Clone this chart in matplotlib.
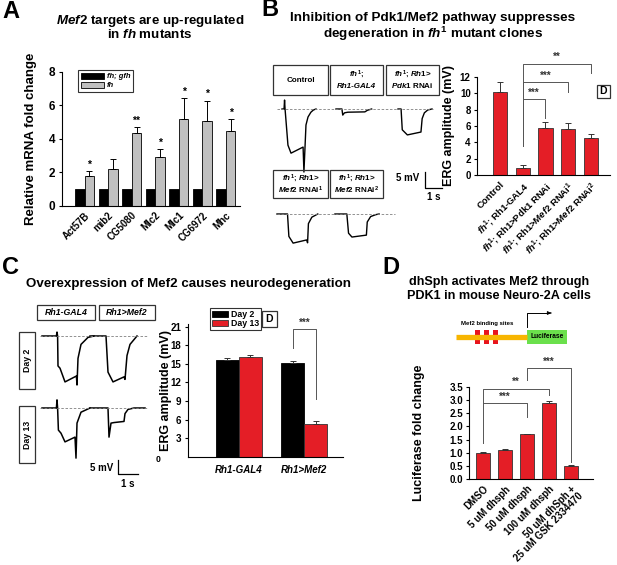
import numpy as np
import matplotlib
matplotlib.use("Agg")
import matplotlib.pyplot as plt
from matplotlib.patches import Rectangle

plt.rcParams['font.family'] = ['Liberation Sans', 'DejaVu Sans']
plt.rcParams['font.weight'] = 'bold'
plt.rcParams['axes.labelweight'] = 'bold'
plt.rcParams['mathtext.fontset'] = 'custom'
plt.rcParams['mathtext.rm'] = 'Liberation Sans:bold'
plt.rcParams['mathtext.it'] = 'Liberation Sans:italic:bold'
plt.rcParams['mathtext.bf'] = 'Liberation Sans:bold'
plt.rcParams['axes.linewidth'] = 0.8

W, H = 617, 565
RED = '#e41e26'

# ---------------- data ----------------
# A
genes = ["Act57B", "mib2", "CG5080", "Mlc2", "Mlc1", "CG6972", "Mhc"]
ctrl_a = [1, 1, 1, 1, 1, 1, 1]
fh_a = [1.78, 2.16, 4.31, 2.91, 5.2, 5.05, 4.45]
fh_err_a = [0.3, 0.64, 0.4, 0.44, 1.2, 1.22, 0.7]
stars_a = ["*", "", "**", "*", "*", "*", "*"]

# B
b_labels = ["Control", r"$\mathit{fh}^{1}$; Rh1-GAL4", r"$\mathit{fh}^{1}$; Rh1>Pdk1 RNAi",
            r"$\mathit{fh}^{1}$; Rh1>$\mathit{Mef2}$ RNAi$^{1}$",
            r"$\mathit{fh}^{1}$; Rh1>$\mathit{Mef2}$ RNAi$^{2}$"]
b_vals = [10.2, 0.85, 5.7, 5.6, 4.5]
b_err = [1.2, 0.35, 0.8, 0.8, 0.5]

# C
c_groups = ["Rh1-GAL4", "Rh1>Mef2"]
c_day2 = [15.6, 15.1]
c_day2_err = [0.35, 0.4]
c_day13 = [16.1, 5.3]
c_day13_err = [0.25, 0.45]

# D
d_labels = ["DMSO", "5 uM dhsph", "50 uM dhsph", "100 uM dhsph",
            "50 uM dhSph +\n25 uM GSK 2334470"]
d_vals = [1.0, 1.1, 1.7, 2.87, 0.52]
d_err = [0.02, 0.03, 0.03, 0.1, 0.02]

# ERG traces (time s, mV)
tr_control = ([0, 0.12, 0.15, 0.18, 0.35, 0.53, 1.24, 1.29, 1.41, 1.53, 1.7, 1.85, 2.0],
              [0, 0, 2.8, 0, -11.3, -13.8, -11.9, -19.7, -5, -2.5, -1, -0.3, 0])
tr_fh_gal4 = ([0, 0.35, 0.4, 0.5, 0.7, 1.7, 1.85, 2.1],
              [0, 0, -1.9, -1.2, -1.0, -0.9, -0.4, 0])
tr_pdk1 = ([0, 0.18, 0.25, 0.55, 1.35, 1.42, 1.55, 1.75, 2.0],
           [0, 0, -6.5, -8.1, -7.2, -3, -1.2, -0.3, 0])
tr_mef2_1 = ([0, 0.62, 0.7, 0.95, 1.75, 1.8, 1.85, 2.05, 2.4],
             [0, 0, -7, -9.1, -8.1, -9, -3, -1, 0])
tr_mef2_2 = ([0, 0.7, 0.8, 1.0, 1.85, 1.9, 2.1, 2.4, 2.6],
             [0, 0, -6, -7.2, -6.6, -2.5, -0.8, -0.2, 0])

tr_gal4_d2 = ([0, 0.72, 0.75, 0.78, 0.8, 0.9, 1.15, 1.72, 1.75, 1.8, 1.95, 2.3, 2.6],
              [0, 0, 1.4, 0, -10.7, -11.5, -16.4, -14.3, -17.5, -8, -3, -0.5, 0])
tr_mef2_d2 = ([0, 0.8, 0.9, 1.15, 1.7, 1.75, 1.85, 2.0, 2.35],
              [0, 0, -12.9, -16.4, -14.6, -15.5, -7, -3, 0])
tr_gal4_d13 = ([0, 0.72, 0.75, 0.78, 0.82, 0.95, 1.15, 1.65, 1.7, 1.75, 1.95, 2.4],
               [0, 0, 2.9, 0, -7.9, -9, -12.1, -10.4, -17.9, -5.4, -1.5, 0])
tr_mef2_d13 = ([0, 0.9, 0.95, 1.05, 1.2, 1.7, 1.75, 1.9, 2.2, 2.75],
               [0, 0, -10.4, -5.4, -5.2, -4.8, -2, -0.5, 0, 0])


def rect(l, t, r, b):
    return [l / W, 1 - b / H, (r - l) / W, (b - t) / H]


def ftext(x, y, s, **kw):
    kw.setdefault('ha', 'center')
    kw.setdefault('va', 'center')
    fig.text(x / W, 1 - y / H, s, **kw)


def fbox(l, t, r, b):
    fig.add_artist(Rectangle((l / W, 1 - b / H), (r - l) / W, (b - t) / H,
                             transform=fig.transFigure, fill=False, ec='#333333', lw=0.9))


def bracket(ax, x1, x2, y1, y2, top, text, ty):
    ax.plot([x1, x1, x2, x2], [y1, top, top, y2], color='#555555', lw=0.7, clip_on=False)
    ax.text((x1 + x2) / 2, ty, text, ha='center', va='center', fontsize=7, color='#333333')


def style(ax):
    ax.spines['top'].set_visible(False)
    ax.spines['right'].set_visible(False)
    ax.tick_params(axis='x', length=0)
    ax.tick_params(axis='y', length=2.5, width=0.8, labelsize=7, pad=2)


def ylabel_at(ax, text, xpx, size):
    # place the y label centre at a given pixel column
    bb = ax.get_position()
    ax.set_ylabel(text, fontsize=size)
    ax.yaxis.set_label_coords((xpx / W - bb.x0) / bb.width, 0.5)


fig = plt.figure(figsize=(W / 100, H / 100), dpi=100)

# ---------------- panel A ----------------
axA = fig.add_axes(rect(61.7, 71.7, 240, 205.5))
x = np.arange(len(genes))
axA.bar(x - 0.2, ctrl_a, 0.4, color='black', edgecolor='black', lw=0.6, label='fh; gfh')
axA.bar(x + 0.2, fh_a, 0.4, color='#c0c0c0', edgecolor='black', lw=0.6, label='fh')
axA.errorbar(x + 0.2, fh_a, yerr=[np.zeros(len(x)), fh_err_a], fmt='none', ecolor='black',
             elinewidth=0.7, capsize=2.2, capthick=0.7)
for xi, v, e, s in zip(x, fh_a, fh_err_a, stars_a):
    axA.text(xi + 0.2, v + e + 0.08, s, ha='center', va='bottom', fontsize=7.5)
axA.set_xlim(-0.98, 6.6)
axA.set_ylim(0, 8)
axA.set_yticks([0, 2, 4, 6, 8])
axA.set_xticks(x)
axA.set_xticklabels(genes, rotation=45, ha='right', rotation_mode='anchor', fontsize=7)
style(axA)
axA.tick_params(axis='y', labelsize=8.5)
ylabel_at(axA, "Relative mRNA fold change", 37, 9.5)
leg = axA.legend(loc='upper left', bbox_to_anchor=(78 / W, 1 - 70 / H),
                 bbox_transform=fig.transFigure, fontsize=5.5, frameon=True, fancybox=False,
                 handlelength=3.0, handleheight=0.9, handletextpad=0.4, borderpad=0.35,
                 labelspacing=0.15, borderaxespad=0)
leg.get_frame().set_edgecolor('black')
leg.get_frame().set_linewidth(0.8)
for t in leg.get_texts():
    t.set_fontstyle('italic')
ftext(2, 12, "A", fontsize=17, ha='left')
ftext(150, 21, r"$\mathit{Mef2}$ targets are up-regulated", fontsize=9.6)
ftext(150, 35, r"in $\mathit{fh}$ mutants", fontsize=9.6)

# ---------------- panel B ----------------
ftext(261, 10, "B", fontsize=17, ha='left')
ftext(433, 18, "Inhibition of Pdk1/Mef2 pathway suppresses", fontsize=9.7)
ftext(433, 34, r"degeneration in $\mathit{fh}^{1}$ mutant clones", fontsize=9.7)

fbox(273, 65, 328, 95)
ftext(300.5, 80, "Control", fontsize=5.8)
fbox(330, 65, 383, 95)
ftext(356.5, 74, r"$\mathit{fh}^{1}$;", fontsize=5.8)
ftext(356.5, 86, "Rh1-GAL4", fontsize=5.8, fontstyle='italic')
fbox(386, 65, 439, 95)
ftext(412.5, 74, r"$\mathit{fh}^{1}$; $\mathit{Rh1}$>", fontsize=5.8)
ftext(412.5, 86, r"$\mathit{Pdk1}$ RNAi", fontsize=5.8)
fbox(273, 170, 328, 198)
ftext(300.5, 178, r"$\mathit{fh}^{1}$; $\mathit{Rh1}$>", fontsize=5.8)
ftext(300.5, 190, r"$\mathit{Mef2}$ RNAi$^{1}$", fontsize=5.8)
fbox(330, 170, 383, 198)
ftext(356.5, 178, r"$\mathit{fh}^{1}$; $\mathit{Rh1}$>", fontsize=5.8)
ftext(356.5, 190, r"$\mathit{Mef2}$ RNAi$^{2}$", fontsize=5.8)

axBt = fig.add_axes(rect(270, 95, 450, 255))
axBt.set_xlim(0, 180 / 17)
axBt.set_ylim(-146 / 3.2, 14 / 3.2)
axBt.axis('off')
low = -105 / 3.2
for (tt, vv), t0, off in [(tr_control, 0.706, 0), (tr_fh_gal4, 3.88, 0), (tr_pdk1, 7.53, 0),
                          (tr_mef2_1, 0.41, low), (tr_mef2_2, 3.82, low)]:
    axBt.plot(np.array(tt) + t0, np.array(vv) + off, color='black', lw=1.0)
axBt.plot([0.41, 9.59], [0, 0], color='gray', lw=0.6, ls=(0, (3, 2)))
axBt.plot([0.41, 7.35], [low, low], color='gray', lw=0.6, ls=(0, (3, 2)))
sb_t, sb_v = 9.12, -24.7
axBt.plot([sb_t, sb_t, sb_t + 1], [sb_v + 5, sb_v, sb_v], color='black', lw=0.9)
ftext(419, 178, "5 mV", fontsize=7, ha='right')
ftext(434, 197, "1 s", fontsize=7)

axB = fig.add_axes(rect(477, 77, 610, 175))
xb = np.arange(len(b_vals))
axB.bar(xb, b_vals, 0.62, color=RED, edgecolor='#333333', lw=0.6)
axB.errorbar(xb, b_vals, yerr=[np.zeros(len(xb)), b_err], fmt='none', ecolor='#333333',
             elinewidth=0.7, capsize=2, capthick=0.7)
axB.set_xlim(-1.0, 4.83)
axB.set_ylim(0, 12)
axB.set_yticks(range(0, 13, 2))
axB.set_xticks(xb)
axB.set_xticklabels(b_labels, rotation=45, ha='right', rotation_mode='anchor', fontsize=6.8)
style(axB)
ylabel_at(axB, "ERG amplitude (mV)", 455, 9)
bracket(axB, 1, 2, 3.5, 7.0, 9.3, "***", 10.0)
bracket(axB, 1, 3, 3.5, 10.2, 11.4, "***", 12.2)
bracket(axB, 1, 4, 3.5, 12.5, 13.6, "**", 14.5)
fbox(597, 85, 610, 98)
ftext(603.5, 91.5, "D", fontsize=7.5)

# ---------------- panel C ----------------
ftext(2, 268, "C", fontsize=17, ha='left')
ftext(188, 284, r"Overexpression of Mef2 causes neurodegeneration", fontsize=9.6)
fbox(37, 305, 95, 320)
ftext(66, 312.5, "Rh1-GAL4", fontsize=6.3, fontstyle='italic')
fbox(99, 305, 155, 320)
ftext(127, 312.5, "Rh1>Mef2", fontsize=6.3, fontstyle='italic')
fbox(19, 332, 35, 389)
ftext(27, 360.5, "Day 2", fontsize=6.3, rotation=90)
fbox(19, 406, 35, 463)
ftext(27, 434.5, "Day 13", fontsize=6.3, rotation=90)

axCt = fig.add_axes(rect(35, 325, 160, 480))
axCt.set_xlim(0, 125 / 20)
axCt.set_ylim(-144 / 2.8, 11 / 2.8)
axCt.axis('off')
low_c = -72 / 2.8
for (tt, vv), t0, off in [(tr_gal4_d2, 0.35, 0), (tr_mef2_d2, 2.75, 0),
                          (tr_gal4_d13, 0.35, low_c), (tr_mef2_d13, 2.75, low_c)]:
    axCt.plot(np.array(tt) + t0, np.array(vv) + off, color='black', lw=1.1)
axCt.plot([0.25, 5.65], [0, 0], color='gray', lw=0.6, ls=(0, (3, 2)))
axCt.plot([0.25, 5.65], [low_c, low_c], color='gray', lw=0.6, ls=(0, (3, 2)))
sc_t, sc_v = 4.15, -138 / 2.8
axCt.plot([sc_t, sc_t, sc_t + 1], [sc_v + 5, sc_v, sc_v], color='black', lw=0.9)
ftext(113, 468, "5 mV", fontsize=7, ha='right')
ftext(128, 484, "1 s", fontsize=7)

axC = fig.add_axes(rect(187.7, 323.6, 343, 456.7))
xc = np.arange(len(c_groups))
axC.bar(xc - 0.175, c_day2, 0.35, color='black', edgecolor='black', lw=0.6, label='Day 2')
axC.bar(xc + 0.175, c_day13, 0.35, color=RED, edgecolor='#333333', lw=0.6, label='Day 13')
axC.errorbar(xc - 0.175, c_day2, yerr=[np.zeros(2), c_day2_err], fmt='none', ecolor='#333333',
             elinewidth=0.7, capsize=2, capthick=0.7)
axC.errorbar(xc + 0.175, c_day13, yerr=[np.zeros(2), c_day13_err], fmt='none', ecolor='#333333',
             elinewidth=0.7, capsize=2, capthick=0.7)
axC.set_xlim(-0.78, 1.59)
axC.set_ylim(0, 21.5)
axC.set_yticks(range(3, 22, 3))
axC.set_xticks(xc)
axC.set_xticklabels(c_groups, fontsize=7, fontstyle='italic')
style(axC)
axC.tick_params(axis='x', pad=6)
ylabel_at(axC, "ERG amplitude (mV)", 172, 9)
bracket(axC, 0.825, 1.175, 17.5, 9.4, 20.6, "***", 21.7)
legC = axC.legend(loc='upper left', bbox_to_anchor=(210 / W, 1 - 308 / H),
                  bbox_transform=fig.transFigure, fontsize=6.3, frameon=True, fancybox=False,
                  handlelength=1.9, handleheight=0.7, handletextpad=0.3, borderpad=0.2,
                  labelspacing=0.05, borderaxespad=0)
legC.get_frame().set_edgecolor('black')
legC.get_frame().set_linewidth(0.8)
fbox(262, 311, 277, 327)
ftext(269.5, 319, "D", fontsize=7.5)
ftext(158, 460, "0", fontsize=6.3)

# ---------------- panel D ----------------
ftext(382, 268, "D", fontsize=17, ha='left')
ftext(499, 282, "dhSph activates Mef2 through", fontsize=9.1)
ftext(499, 296, "PDK1 in mouse Neuro-2A cells", fontsize=9.1)

axDg = fig.add_axes(rect(450, 305, 575, 348))
axDg.set_xlim(0, 125)
axDg.set_ylim(0, 43)
axDg.axis('off')
axDg.plot([6, 77], [11, 11], color='#f7b500', lw=3.8, solid_capstyle='butt')
for bx in [25, 34, 43]:
    axDg.add_patch(Rectangle((bx, 4), 5, 14, fc='#e8141c', ec='none'))
axDg.add_patch(Rectangle((77, 4), 40, 14, fc='#6be04c', ec='none'))
axDg.text(97, 11, "Luciferase", ha='center', va='center', fontsize=4.8)
axDg.text(37, 25, "Mef2 binding sites", ha='center', va='center', fontsize=4.3)
axDg.plot([77, 77, 99], [21, 35, 35], color='black', lw=0.7)
axDg.annotate("", xy=(104, 35), xytext=(98, 35),
              arrowprops=dict(arrowstyle='-|>', color='black', lw=0.7, mutation_scale=5))

axD = fig.add_axes(rect(469.3, 386.7, 593.3, 479.3))
xd = np.arange(len(d_vals))
axD.bar(xd, d_vals, 0.64, color=RED, edgecolor='#333333', lw=0.6)
axD.errorbar(xd, d_vals, yerr=[np.zeros(len(xd)), d_err], fmt='none', ecolor='#333333',
             elinewidth=0.7, capsize=2, capthick=0.7)
axD.set_xlim(-0.64, 5.02)
axD.set_ylim(0, 3.5)
axD.set_yticks(np.arange(0, 3.51, 0.5))
axD.set_yticklabels([f"{v:.1f}" for v in np.arange(0, 3.51, 0.5)])
axD.set_xticks(xd)
axD.set_xticklabels(d_labels, rotation=45, ha='right', rotation_mode='anchor', fontsize=7,
                    linespacing=1.0)
style(axD)
ylabel_at(axD, "Luciferase fold change", 425, 9)
bracket(axD, 0, 2, 1.36, 2.36, 2.87, "***", 3.12)
bracket(axD, 0, 3, 2.87, 3.18, 3.43, "**", 3.68)
bracket(axD, 2, 4, 3.75, 0.66, 4.19, "***", 4.44)

fig.savefig("out.png", dpi=100)
